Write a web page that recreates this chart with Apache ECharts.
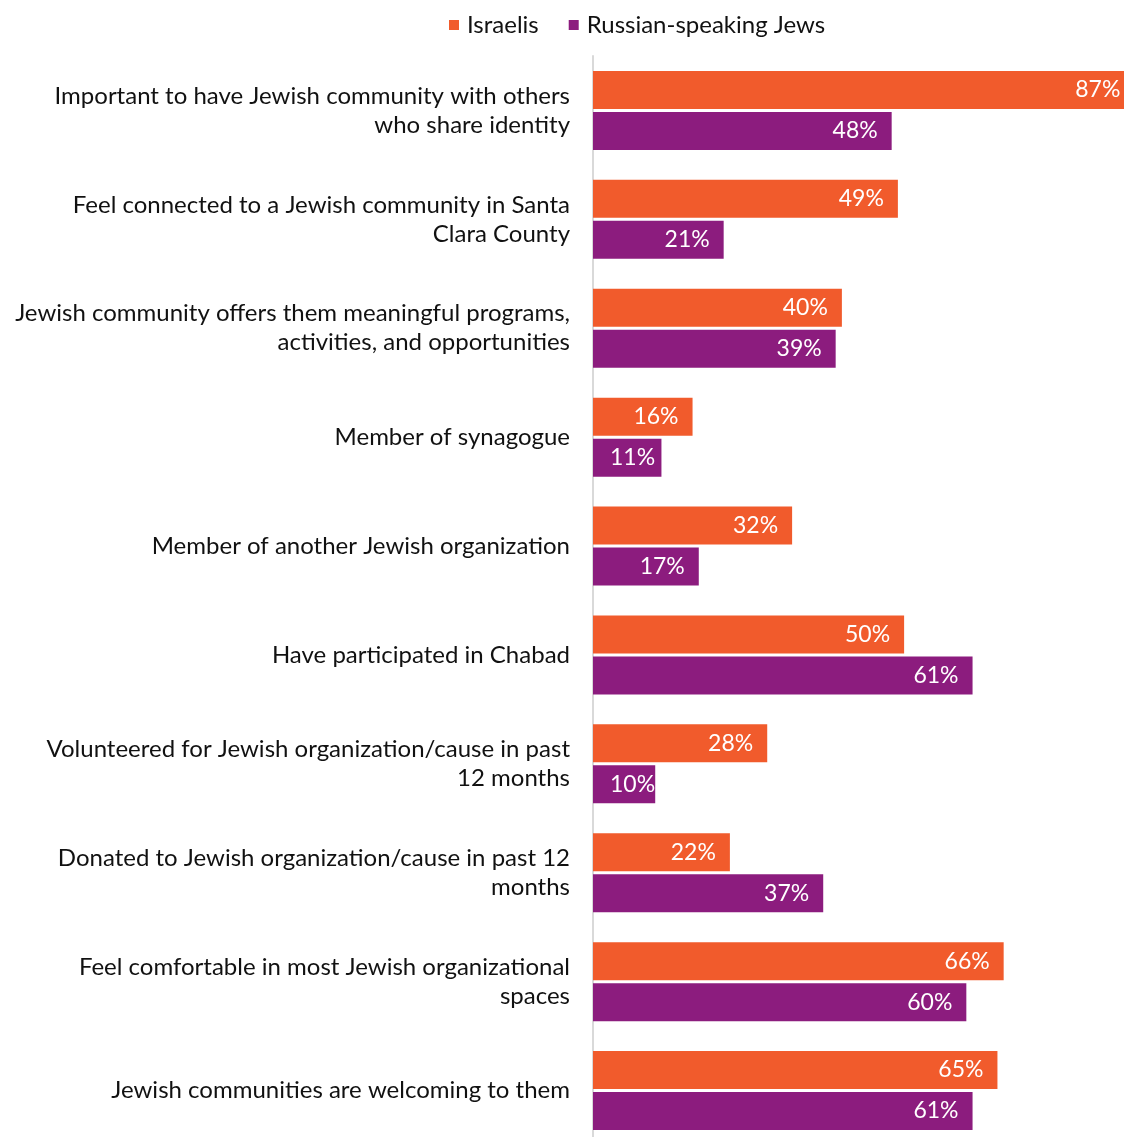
<!DOCTYPE html>
<html>
<head>
<meta charset="utf-8">
<script src="https://cdn.jsdelivr.net/npm/echarts@6/dist/echarts.min.js"></script>
<style>
  html, body { margin: 0; padding: 0; background: #fff; }
  #chart { width: 1124px; height: 1137px; }
</style>
</head>
<body>
<div id="chart"></div>
<script>
// Community engagement measures, share of respondents (%)
const categories = [
  'Important to have Jewish community with others\nwho share identity',
  'Feel connected to a Jewish community in Santa\nClara County',
  'Jewish community offers them meaningful programs,\nactivities, and opportunities',
  'Member of synagogue',
  'Member of another Jewish organization',
  'Have participated in Chabad',
  'Volunteered for Jewish organization/cause in past\n12 months',
  'Donated to Jewish organization/cause in past 12\nmonths',
  'Feel comfortable in most Jewish organizational\nspaces',
  'Jewish communities are welcoming to them'
];
const israelis = [87, 49, 40, 16, 32, 50, 28, 22, 66, 65];
const russianSpeaking = [48, 21, 39, 11, 17, 61, 10, 37, 60, 61];

const FONT = 'Lato';
const ORANGE = '#F15B2C';
const PURPLE = '#8C1C7E';

// Labels on very short bars keep a fixed inset from the bar start instead
function toItems(values) {
  return values.map(v => v < 12
    ? { value: v, label: { position: 'insideLeft', distance: 17 } }
    : v);
}

const valueLabel = {
  show: true,
  position: 'insideRight',
  distance: 14,
  color: '#fff',
  fontFamily: FONT,
  fontSize: 23,
  formatter: '{c}%'
};

const chart = echarts.init(document.getElementById('chart'));
chart.setOption({
  animation: false,
  textStyle: { fontFamily: FONT },
  legend: {
    top: 8,
    left: 444,
    itemWidth: 10,
    itemHeight: 10,
    itemGap: 30,
    icon: 'rect',
    textStyle: { fontFamily: FONT, fontSize: 24, color: '#111', padding: [0, 0, 0, 3] },
    data: ['Israelis', 'Russian-speaking Jews']
  },
  // plot area runs past the right and bottom edges, so the longest bar is cut off
  grid: { left: 593, top: 56, width: 560, height: 1089, outerBoundsMode: 'none' },
  xAxis: {
    type: 'value',
    min: 0,
    max: 90,
    show: false
  },
  yAxis: {
    type: 'category',
    inverse: true,
    data: categories,
    axisLine: { show: true, lineStyle: { color: '#d9d9d9', width: 2 } },
    axisTick: { show: false },
    axisLabel: {
      margin: 23,
      fontFamily: FONT,
      fontSize: 24,
      lineHeight: 29,
      color: '#111',
      align: 'right'
    }
  },
  series: [
    {
      name: 'Israelis',
      type: 'bar',
      data: toItems(israelis),
      barWidth: 38,
      barGap: '8%',
      itemStyle: { color: ORANGE },
      label: valueLabel
    },
    {
      name: 'Russian-speaking Jews',
      type: 'bar',
      data: toItems(russianSpeaking),
      barWidth: 38,
      itemStyle: { color: PURPLE },
      label: valueLabel
    }
  ]
});
</script>
</body>
</html>
